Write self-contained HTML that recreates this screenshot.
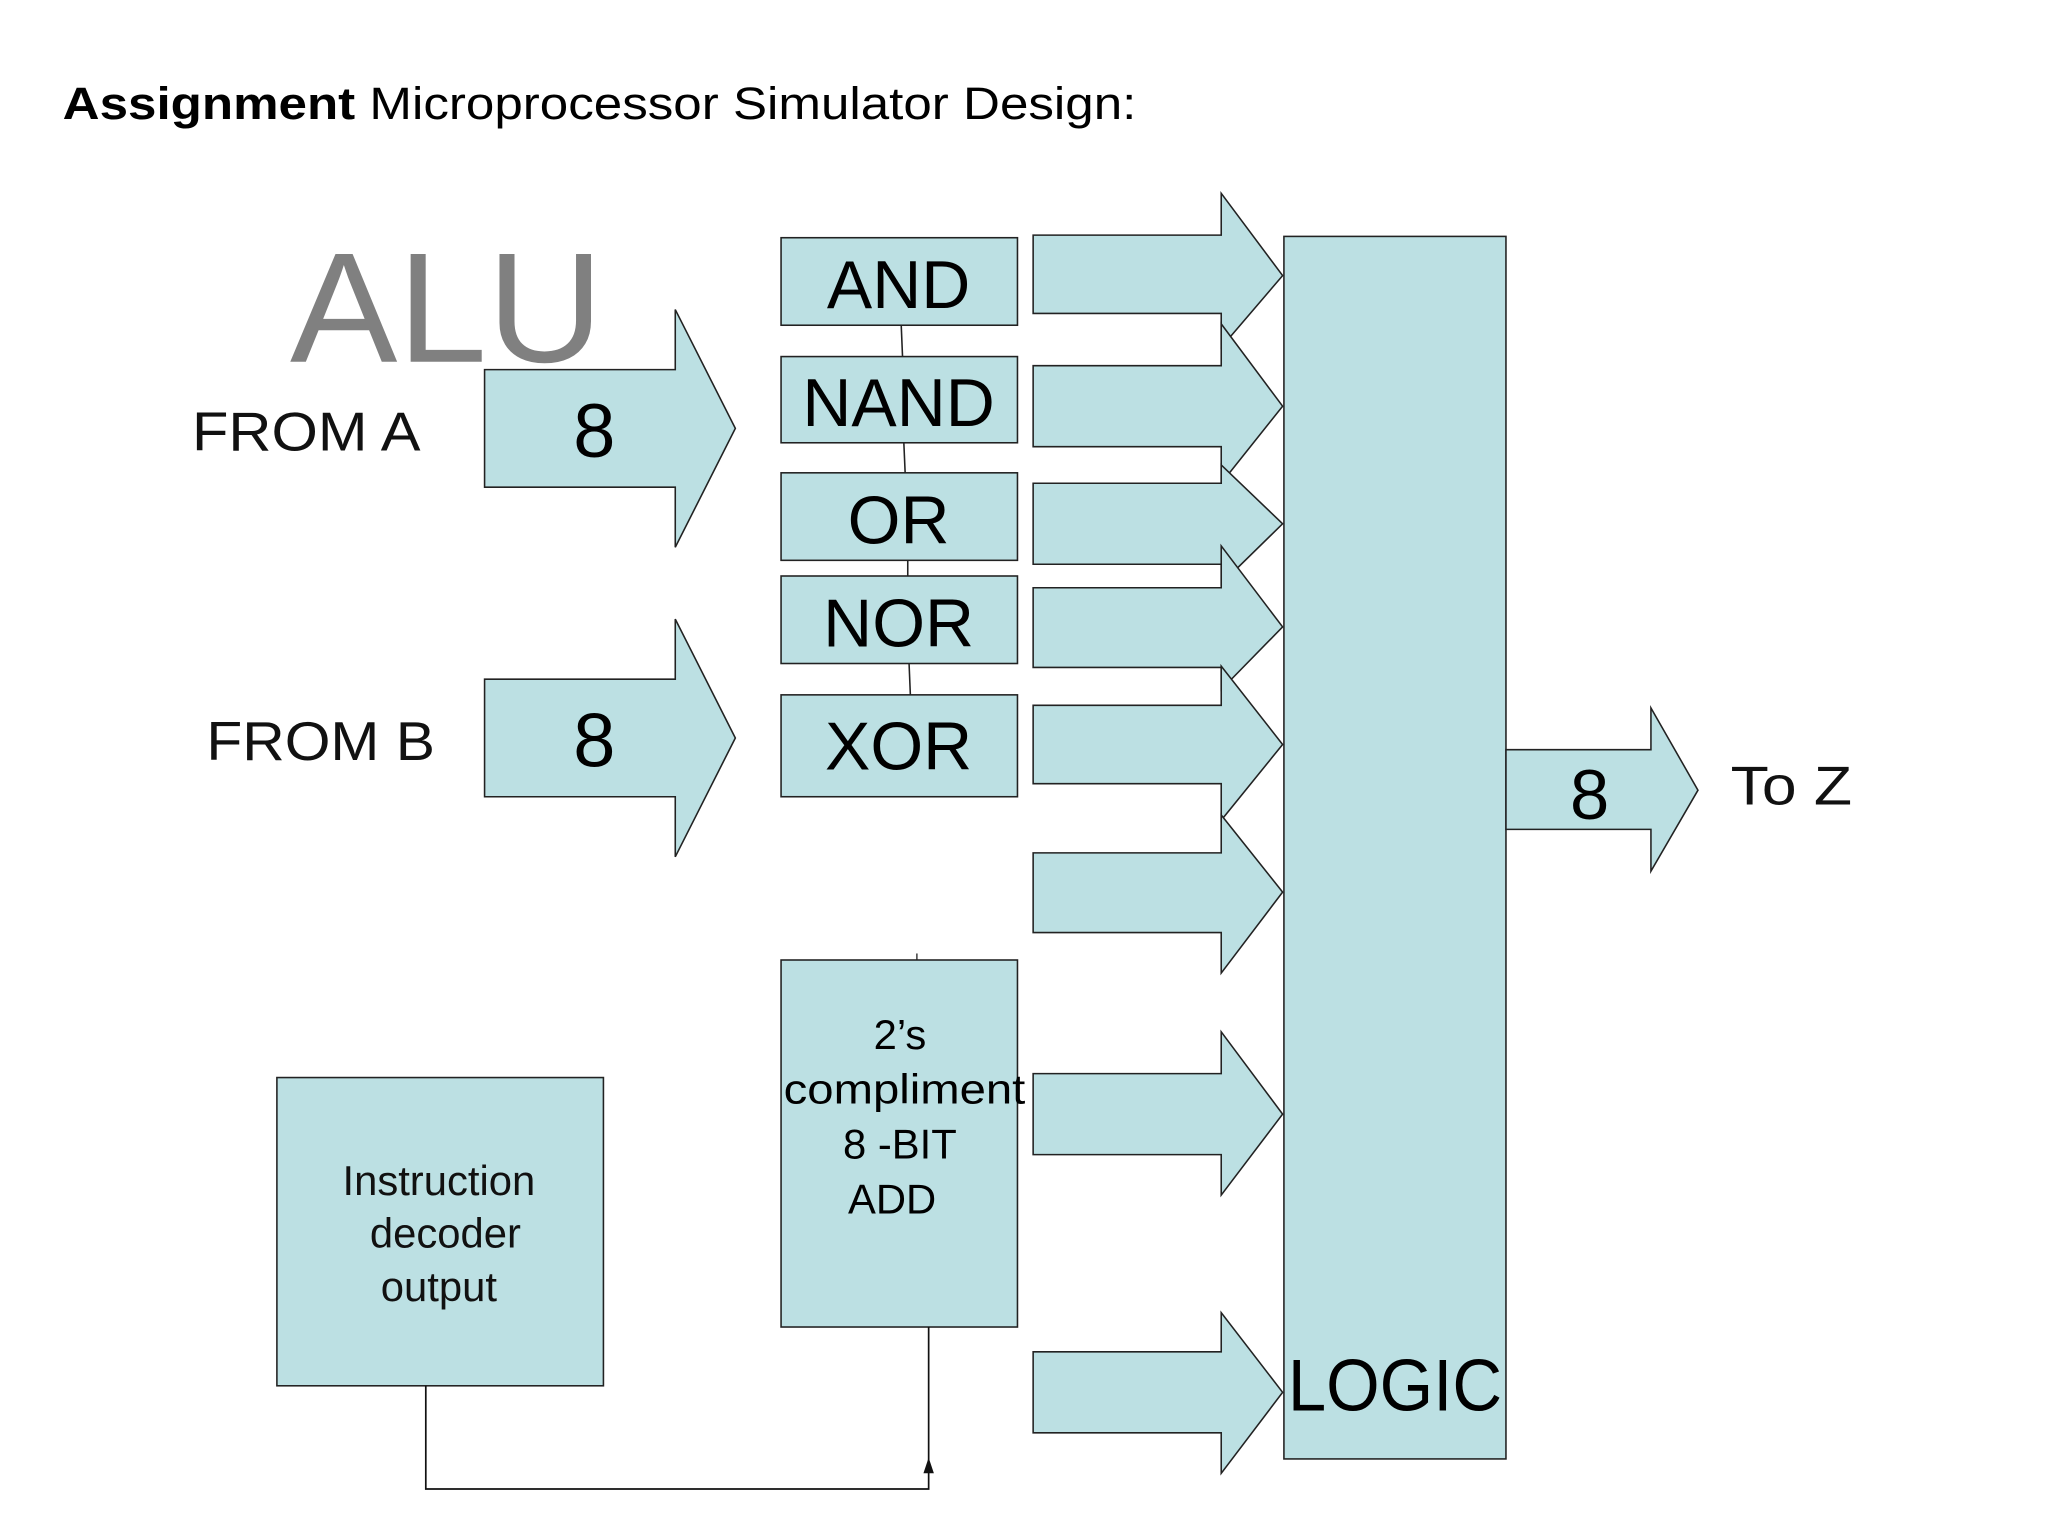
<!DOCTYPE html>
<html><head><meta charset="utf-8"><style>
html,body{margin:0;padding:0;background:#fff;}
svg{display:block;}
text{font-family:"Liberation Sans",Arial,sans-serif;}
</style></head><body>
<svg width="2048" height="1536" viewBox="0 0 1568 1176" xmlns="http://www.w3.org/2000/svg">
<rect width="1568" height="1176" fill="#fff"/>
<text x="48" y="91" font-size="35" fill="#000" textLength="822" lengthAdjust="spacingAndGlyphs"><tspan font-weight="bold">Assignment</tspan> Microprocessor Simulator Design:</text>

<g fill="#bce0e3" stroke="#222" stroke-width="1.2">
<polygon points="371,283 517,283 517,237 563,328 517,419 517,373 371,373"/>
<polygon points="371,520 517,520 517,474 563,565 517,656 517,610 371,610"/>
<line x1="690" y1="249" x2="691" y2="273"/>
<line x1="692" y1="339" x2="693" y2="362"/>
<line x1="695" y1="429" x2="695" y2="441"/>
<line x1="696" y1="508" x2="697" y2="532"/>
<rect x="598" y="182" width="181" height="67"/>
<rect x="598" y="273" width="181" height="66"/>
<rect x="598" y="362" width="181" height="67"/>
<rect x="598" y="441" width="181" height="67"/>
<rect x="598" y="532" width="181" height="78"/>
<rect x="598" y="735" width="181" height="281"/>
<rect x="212" y="825" width="250" height="236"/>
<polygon points="791,180 935,180 935,148 982,211 935,266 935,240 791,240"/>
<polygon points="791,280 935,280 935,248 982,311 935,370 935,342 791,342"/>
<polygon points="791,370 935,370 935,356 982,401 935,447 935,432 791,432"/>
<polygon points="791,450 935,450 935,418 982,480 935,528 935,511 791,511"/>
<polygon points="791,540 935,540 935,510 982,570 935,628 935,600 791,600"/>
<polygon points="791,653 935,653 935,624 982,683 935,745 935,714 791,714"/>
<polygon points="791,822 935,822 935,790 982,853 935,915 935,884 791,884"/>
<polygon points="791,1035 935,1035 935,1005 982,1066 935,1128 935,1097 791,1097"/>
<rect x="983" y="181" width="170" height="936"/>
<polygon points="1153,574 1264,574 1264,542 1300,605 1264,667 1264,635 1153,635"/>
</g>
<line x1="702" y1="730" x2="702" y2="735" stroke="#222" stroke-width="1"/>
<polyline points="326,1061 326,1140 711,1140 711,1016" fill="none" stroke="#111" stroke-width="1.3"/>
<polygon points="707,1128 715,1128 711,1116" fill="#111"/>

<text x="222" y="277" font-size="120" fill="#808080" textLength="240" lengthAdjust="spacingAndGlyphs">ALU</text>
<text x="147" y="345" font-size="42" fill="#111" textLength="175" lengthAdjust="spacingAndGlyphs">FROM A</text>
<text x="158" y="582" font-size="42" fill="#111" textLength="175" lengthAdjust="spacingAndGlyphs">FROM B</text>
<text x="455" y="350" font-size="58" text-anchor="middle" fill="#000">8</text>
<text x="455" y="587" font-size="58" text-anchor="middle" fill="#000">8</text>
<g font-size="52" text-anchor="middle" fill="#000">
<text x="688" y="236">AND</text>
<text x="688" y="326">NAND</text>
<text x="688" y="416">OR</text>
<text x="688" y="495">NOR</text>
<text x="688" y="589">XOR</text>
</g>
<g font-size="32" text-anchor="middle" fill="#000">
<text x="689" y="803">2’s</text>
<text x="689" y="887">8 -BIT</text>
<text x="683" y="929">ADD</text>
</g>
<text x="600" y="845" font-size="32" fill="#000" textLength="185" lengthAdjust="spacingAndGlyphs">compliment</text>
<g font-size="32" text-anchor="middle" fill="#111">
<text x="336" y="915">Instruction</text>
<text x="341" y="955">decoder</text>
<text x="336" y="996">output</text>
</g>
<text x="986" y="1080" font-size="56" fill="#000" textLength="164" lengthAdjust="spacingAndGlyphs">LOGIC</text>
<text x="1217" y="627" font-size="54" text-anchor="middle" fill="#000">8</text>
<text x="1325" y="616" font-size="42" fill="#111" textLength="93" lengthAdjust="spacingAndGlyphs">To Z</text>
</svg>
</body></html>
